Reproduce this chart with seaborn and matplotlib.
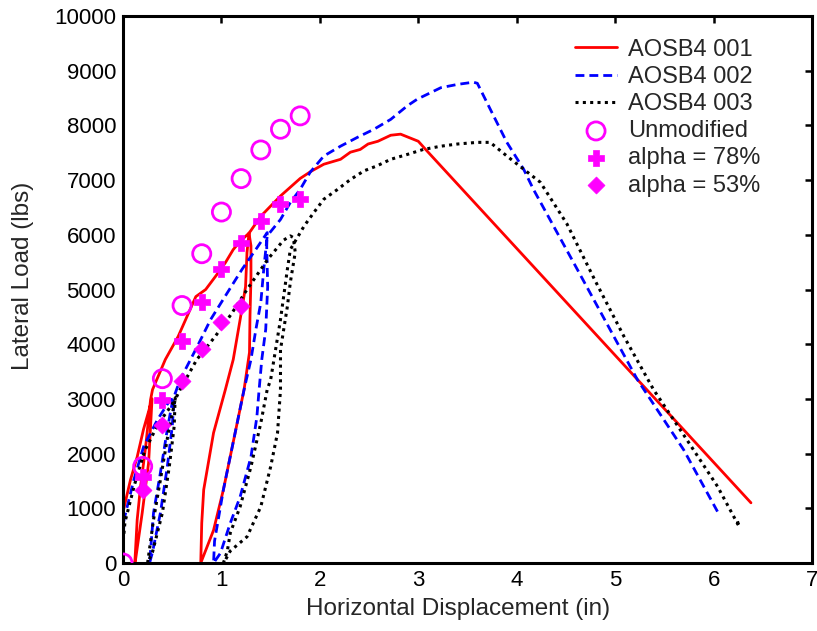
import matplotlib
matplotlib.use("Agg")
import matplotlib.pyplot as plt
import seaborn as sns

# ---- test specimens: horizontal displacement (in) / lateral load (lbs) ----
aosb4_001_x = [0.00, 0.00, 0.005, 0.076, 0.144, 0.208, 0.26, 0.295,
               0.26, 0.195, 0.127, 0.12,
               0.144, 0.178, 0.23, 0.28,
               0.30, 0.43, 0.56, 0.74, 0.84, 0.94, 1.04, 1.12, 1.19, 1.28,
               1.30, 1.30, 1.29, 1.285, 1.23, 1.16, 1.02, 0.92, 0.79,
               0.80, 0.82, 0.92, 1.04, 1.12, 1.19, 1.245, 1.26, 1.28,
               1.30, 1.40, 1.60, 1.80, 1.91, 2.04, 2.21, 2.31, 2.41, 2.49,
               2.59, 2.72, 2.82, 3.00, 3.09, 6.38]
aosb4_001_y = [0, 420, 970, 1520, 1940, 2440, 2770, 3000,
               1830, 915, 55, 0,
               790, 1390, 2125, 2985,
               3170, 3720, 4140, 4870, 5000, 5240, 5490, 5730, 5880, 6030,
               5800, 5200, 4500, 3850, 3170, 2560, 1340, 600, 0,
               730, 1340, 2380, 3170, 3720, 4450, 5050, 5680, 6030,
               6080, 6340, 6710, 7030, 7160, 7290, 7380, 7510, 7560, 7660,
               7710, 7820, 7840, 7710, 7530, 1100]

aosb4_002_x = [0.00, 0.00, 0.01, 0.11, 0.21, 0.35, 0.48, 0.52,
               0.50, 0.45, 0.38, 0.30, 0.27,
               0.31, 0.38, 0.45, 0.50, 0.53,
               0.58, 0.755, 0.89, 1.06, 1.21, 1.36, 1.465,
               1.46, 1.47, 1.45, 1.41, 1.38, 1.36, 1.30, 1.19, 1.09, 0.99, 0.92,
               0.93, 1.02, 1.16, 1.23, 1.30, 1.35, 1.40, 1.43, 1.465,
               1.60, 1.70, 1.80, 1.90, 2.04, 2.21, 2.38, 2.55, 2.72, 2.89,
               2.99, 3.23, 3.40, 3.56, 3.60, 3.73, 3.90, 4.07, 4.17, 4.616,
               5.226, 5.696, 6.04]
aosb4_002_y = [0, 300, 790, 1520, 2130, 2620, 2985, 3000,
               2490, 1760, 915, 200, 0,
               915, 1650, 2440, 2930, 3100,
               3350, 3960, 4450, 4940, 5370, 5760, 6040,
               5790, 5050, 4270, 3720, 3110, 2670, 1940, 1210, 730, 180, 0,
               400, 1340, 2560, 3170, 3720, 4270, 4760, 5370, 5980,
               6280, 6590, 6830, 7140, 7440, 7620, 7780, 7930, 8110, 8360,
               8480, 8690, 8750, 8790, 8770, 8300, 7690, 7200, 6830, 5366,
               3352, 2070, 940]

aosb4_003_x = [0.00, 0.00, 0.02, 0.12, 0.22, 0.36, 0.50, 0.53,
               0.52, 0.47, 0.40, 0.30, 0.25,
               0.31, 0.38, 0.46, 0.53,
               0.58, 0.75, 0.94, 1.10, 1.26, 1.47, 1.63, 1.70, 1.73,
               1.75, 1.70, 1.67, 1.60, 1.60, 1.57, 1.50, 1.40, 1.26, 1.09, 1.04,
               1.02,
               1.06, 1.09, 1.19, 1.30, 1.40, 1.465, 1.50, 1.60, 1.67, 1.70,
               1.84, 1.94, 2.04, 2.18, 2.31, 2.45, 2.58, 2.72, 2.89, 3.05,
               3.23, 3.40, 3.60, 3.73, 3.90, 4.07, 4.24, 4.51, 4.80, 5.09,
               5.39, 5.73, 6.04, 6.26, 6.24]
aosb4_003_y = [0, 350, 750, 1450, 2050, 2550, 2900, 3020,
               2500, 1760, 915, 200, 0,
               790, 1520, 2380, 2985,
               3170, 3720, 4150, 4550, 5000, 5550, 5900, 5980, 5950,
               5680, 5130, 4690, 3900, 3170, 2380, 1760, 1030, 480, 220, 55,
               0,
               220, 550, 1030, 1760, 2560, 3170, 3350, 4450, 5370, 5730,
               6160, 6410, 6650, 6830, 7010, 7170, 7260, 7380, 7470, 7560,
               7620, 7660, 7690, 7690, 7440, 7200, 6960, 6200, 5150, 4140,
               3170, 2250, 1400, 665, 780]

# ---- model predictions ----
unmod_x = [0.0, 0.2, 0.4, 0.6, 0.8, 1.0, 1.2, 1.4, 1.6, 1.8]
unmod_y = [0, 1765, 3370, 4707, 5654, 6416, 7027, 7551, 7930, 8174]

alpha78_x = [0.2, 0.4, 0.6, 0.8, 1.0, 1.2, 1.4, 1.6, 1.8]
alpha78_y = [1575, 2980, 4060, 4780, 5375, 5850, 6250, 6565, 6660]

alpha53_x = [0.2, 0.4, 0.6, 0.8, 1.0, 1.2]
alpha53_y = [1337, 2515, 3333, 3920, 4400, 4695]

x_ticks = [0, 1, 2, 3, 4, 5, 6, 7]
y_ticks = list(range(0, 10001, 1000))

sns.set_theme(style="white")
plt.rcParams["font.family"] = ["Liberation Sans", "DejaVu Sans"]

W, H = 817, 631
fig = plt.figure(figsize=(W / 100, H / 100), dpi=100)
ax = fig.add_axes([123 / W, 1 - 563 / H, (812 - 123) / W, (563 - 16) / H])

magenta = "#ff00ff"

sns.lineplot(x=aosb4_001_x, y=aosb4_001_y, sort=False, estimator=None, ax=ax,
             color="#ff0000", linewidth=2.0, label="AOSB4 001")
sns.lineplot(x=aosb4_002_x, y=aosb4_002_y, sort=False, estimator=None, ax=ax,
             color="#0000ff", linewidth=2.0, linestyle=(0, (3.2, 1.8)),
             label="AOSB4 002")
sns.lineplot(x=aosb4_003_x, y=aosb4_003_y, sort=False, estimator=None, ax=ax,
             color="black", linewidth=2.2, linestyle=(0, (1, 1.4)),
             label="AOSB4 003")

sns.scatterplot(x=unmod_x, y=unmod_y, ax=ax, marker="o", s=170,
                facecolors="none", edgecolor=magenta, linewidth=2.0,
                label="Unmodified", zorder=5)
sns.scatterplot(x=alpha78_x, y=alpha78_y, ax=ax, marker="P", s=120,
                color=magenta, edgecolor=magenta, linewidth=0.5,
                label="alpha = 78%", zorder=5)
sns.scatterplot(x=alpha53_x, y=alpha53_y, ax=ax, marker="D", s=75,
                color=magenta, edgecolor=magenta, linewidth=0.5,
                label="alpha = 53%", zorder=5)

ax.set_xlim(0, 7)
ax.set_ylim(0, 10000)
ax.set_xticks(x_ticks)
ax.set_yticks(y_ticks)
ax.set_xticklabels([str(t) for t in x_ticks])
ax.set_yticklabels([str(t) for t in y_ticks])

for side in ["left", "right", "top", "bottom"]:
    ax.spines[side].set_visible(True)
    ax.spines[side].set_color("black")
    ax.spines[side].set_linewidth(2.2)

ax.tick_params(axis="both", which="major", direction="in", length=5,
               width=1.8, top=True, right=True, labelsize=16,
               colors="black", pad=5)

ax.set_xlabel("Horizontal Displacement (in)", fontsize=17.5)
ax.set_ylabel("Lateral Load (lbs)", fontsize=17.5)
ax.xaxis.set_label_coords((458 - 123) / 689, (563 - 598) / 547)
ax.yaxis.set_label_coords((34 - 123) / 689, (563 - 276) / 547)

ax.legend(loc="upper left", bbox_to_anchor=(0.642, 0.976), frameon=False,
          fontsize=17, handlelength=1.8, handletextpad=0.45,
          labelspacing=0.22, borderpad=0.4, borderaxespad=0.0)

fig.savefig("out.png", dpi=100)
